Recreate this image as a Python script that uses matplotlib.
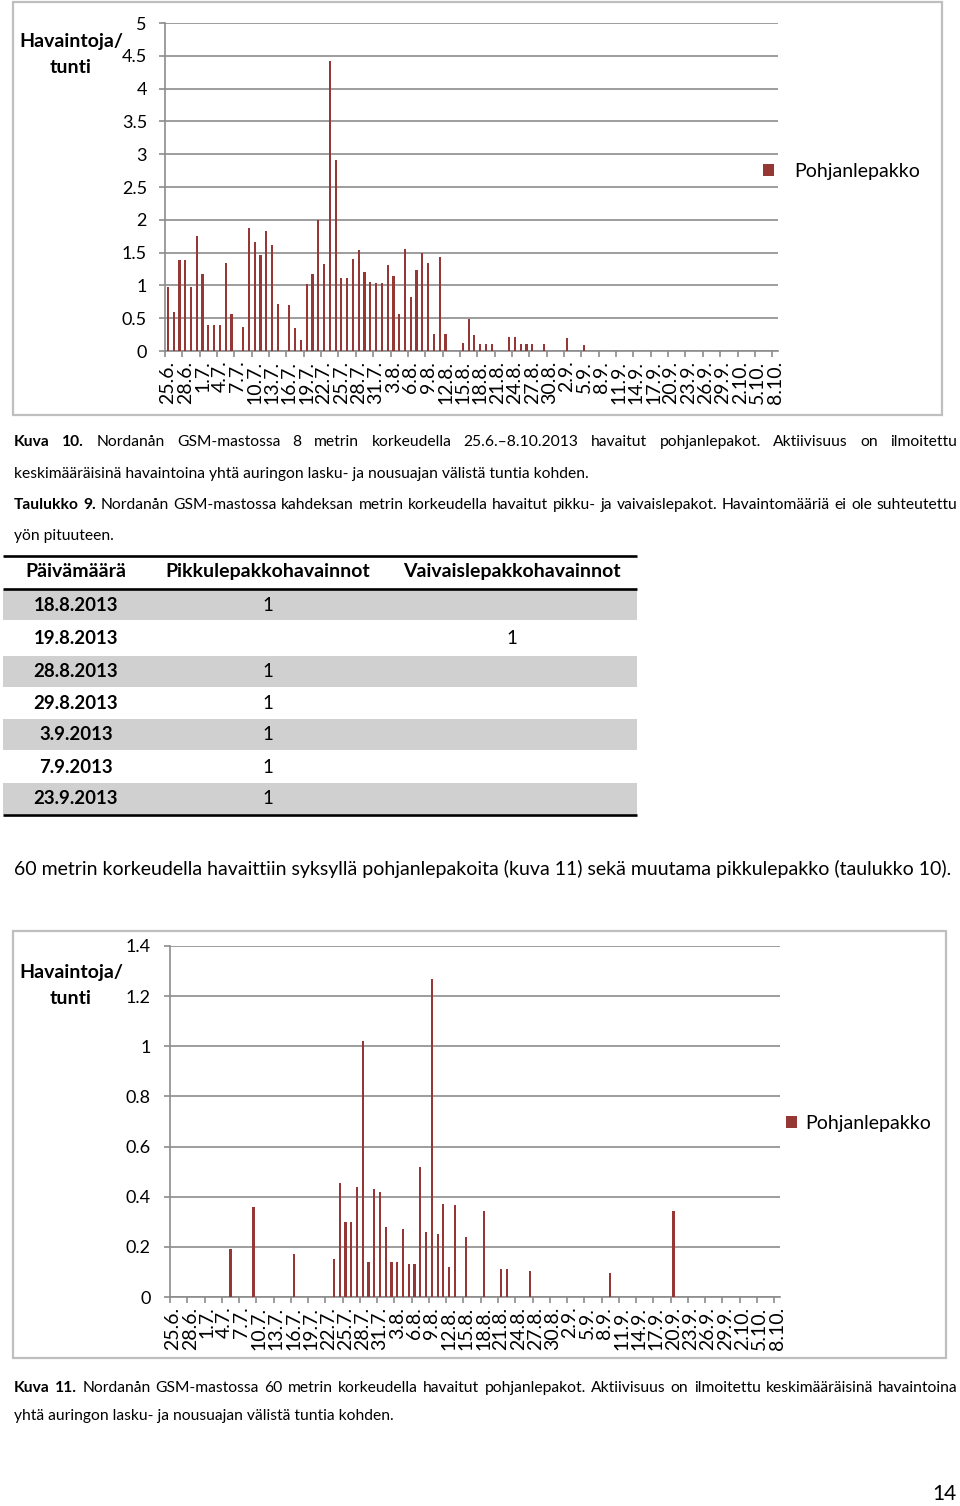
import numpy as np
import matplotlib.pyplot as plt
from matplotlib.patches import Rectangle

FONT = 'Lato'
plt.rcParams['font.family'] = [FONT, 'DejaVu Sans']

# daily categories 25.6. - 8.10.2013, every third one labelled
xtick_labels = ['25.6.', '28.6.', '1.7.', '4.7.', '7.7.', '10.7.', '13.7.', '16.7.', '19.7.',
                '22.7.', '25.7.', '28.7.', '31.7.', '3.8.', '6.8.', '9.8.', '12.8.', '15.8.',
                '18.8.', '21.8.', '24.8.', '27.8.', '30.8.', '2.9.', '5.9.', '8.9.', '11.9.',
                '14.9.', '17.9.', '20.9.', '23.9.', '26.9.', '29.9.', '2.10.', '5.10.', '8.10.']
n_days = 106

# Kuva 10: 8 m height, observations per hour
obs_8m = [0.98, 0.59, 1.38, 1.38, 0.98, 1.76, 1.17, 0.39, 0.39, 0.39,
          1.34, 0.57, 0, 0.37, 1.87, 1.66, 1.47, 1.83, 1.62, 0.71,
          0, 0.70, 0.35, 0.17, 1.02, 1.18, 2.00, 1.32, 4.42, 2.91,
          1.12, 1.11, 1.40, 1.54, 1.21, 1.05, 1.04, 1.03, 1.31, 1.15,
          0.57, 1.55, 0.83, 1.23, 1.49, 1.34, 0.26, 1.44, 0.26, 0,
          0, 0.12, 0.49, 0.24, 0.11, 0.11, 0.11, 0, 0, 0.22,
          0.22, 0.11, 0.11, 0.11, 0, 0.11, 0, 0, 0, 0.20,
          0, 0, 0.09, 0, 0, 0, 0, 0, 0, 0,
          0, 0, 0, 0, 0, 0, 0, 0, 0, 0,
          0, 0, 0, 0, 0, 0, 0, 0, 0, 0,
          0, 0, 0, 0, 0, 0]

# Kuva 11: 60 m height
obs_60m = [0, 0, 0, 0, 0, 0, 0, 0, 0, 0,
           0.19, 0, 0, 0, 0.36, 0, 0, 0, 0, 0,
           0, 0.17, 0, 0, 0, 0, 0, 0, 0.15, 0.455,
           0.30, 0.30, 0.44, 1.02, 0.14, 0.43, 0.42, 0.28, 0.14, 0.14,
           0.27, 0.13, 0.13, 0.52, 0.26, 1.27, 0.25, 0.37, 0.12, 0.365,
           0, 0.24, 0, 0, 0.345, 0, 0, 0.11, 0.11, 0,
           0, 0, 0.105, 0, 0, 0, 0, 0, 0, 0,
           0, 0, 0, 0, 0, 0, 0.095, 0, 0, 0,
           0, 0, 0, 0, 0, 0, 0, 0.345, 0, 0,
           0, 0, 0, 0, 0, 0, 0, 0, 0, 0,
           0, 0, 0, 0, 0, 0]

y1_ticks = [0, 0.5, 1, 1.5, 2, 2.5, 3, 3.5, 4, 4.5, 5]
y2_ticks = [0, 0.2, 0.4, 0.6, 0.8, 1, 1.2, 1.4]
series_name = 'Pohjanlepakko'

# Taulukko 9
table_header = ['Päivämäärä', 'Pikkulepakkohavainnot', 'Vaivaislepakkohavainnot']
table_dates = ['18.8.2013', '19.8.2013', '28.8.2013', '29.8.2013', '3.9.2013', '7.9.2013', '23.9.2013']
table_pikku = ['1', '', '1', '1', '1', '1', '1']
table_vaivais = ['', '1', '', '', '', '', '']

BAR = '#953735'
GRID = '#8c8c8c'

W, H = 960, 1506
fig = plt.figure(figsize=(W / 100, H / 100), dpi=100)
bg = fig.add_axes([0, 0, 1, 1], zorder=0)
bg.set_xlim(0, W)
bg.set_ylim(H, 0)
bg.axis('off')
renderer = fig.canvas.get_renderer()


def frac(x0, y0, x1, y1):
    return [x0 / W, 1 - y1 / H, (x1 - x0) / W, (y1 - y0) / H]


def fit_size(s, width, weight='normal'):
    t = bg.text(0, 0, s, fontsize=10, fontweight=weight)
    w = t.get_window_extent(renderer).width
    t.remove()
    return 10 * width / w


def justify(words, x0, x1, y, size):
    arts = [bg.text(0, y, w, fontsize=size, fontweight=wt, va='baseline') for w, wt in words]
    widths = [t.get_window_extent(renderer).width for t in arts]
    gap = (x1 - x0 - sum(widths)) / (len(arts) - 1)
    x = x0
    for t, w in zip(arts, widths):
        t.set_x(x)
        x += w + gap


def words_of(bold, normal):
    return [(w, 'bold') for w in bold.split()] + [(w, 'normal') for w in normal.split()]


def bar_chart(box, area, values, yticks, ylab_pad, legend_xy, text_pad):
    x0, y0, x1, y1 = box
    bg.add_patch(Rectangle((x0, y0), x1 - x0, y1 - y0, fill=False, ec='#bfbfbf', lw=1.6))
    ax = fig.add_axes(frac(*area), zorder=1)
    ax.patch.set_alpha(0)
    x = np.arange(n_days)
    ax.bar(x, values, width=0.38, color=BAR, label=series_name, zorder=3)
    ax.set_xlim(-0.5, n_days - 0.5)
    ax.set_ylim(yticks[0], yticks[-1])
    ax.set_yticks(yticks)
    ax.set_yticklabels([f'{v:g}' for v in yticks])
    ax.set_xticks(x[::3])
    ax.set_xticklabels(xtick_labels, rotation=90)
    ax.set_xticks(np.arange(-0.5, n_days, 3), minor=True)
    ax.yaxis.grid(True, color=GRID, lw=1.2)
    ax.set_axisbelow(True)
    for s in ['top', 'right']:
        ax.spines[s].set_visible(False)
    for s in ['left', 'bottom']:
        ax.spines[s].set_color(GRID)
        ax.spines[s].set_linewidth(1.2)
    ax.tick_params(axis='y', length=4, width=1.2, color=GRID, pad=ylab_pad, labelsize=13)
    ax.tick_params(axis='x', which='major', length=0, pad=7, labelsize=14)
    ax.tick_params(axis='x', which='minor', length=4, width=1.2, color=GRID)
    ax.legend(loc='center left', bbox_to_anchor=(legend_xy[0] / W, 1 - legend_xy[1] / H),
              bbox_transform=fig.transFigure, frameon=False, fontsize=14,
              handlelength=0.58, handleheight=0.58, handletextpad=text_pad,
              borderpad=0, borderaxespad=0)
    return ax


# chart 1
bar_chart((13, 2, 942, 415), (165, 23, 778, 351), obs_8m, y1_ticks, 9, (763, 171), 1.05)
bg.text(71, 41, 'Havaintoja/', fontsize=14, fontweight='bold', ha='center', va='center')
bg.text(71, 67, 'tunti', fontsize=14, fontweight='bold', ha='center', va='center')

# caption texts
body = fit_size('keskimääräisinä havaintoina yhtä auringon lasku- ja nousuajan välistä tuntia kohden.', 576)
justify(words_of('Kuva 10.', 'Nordanån GSM-mastossa 8 metrin korkeudella 25.6.–8.10.2013 havaitut '
                 'pohjanlepakot. Aktiivisuus on ilmoitettu'), 14, 957, 446, body)
bg.text(14, 478, 'keskimääräisinä havaintoina yhtä auringon lasku- ja nousuajan välistä tuntia kohden.',
        fontsize=body, va='baseline')
justify(words_of('Taulukko 9.', 'Nordanån GSM-mastossa kahdeksan metrin korkeudella havaitut pikku- ja '
                 'vaivaislepakot. Havaintomääriä ei ole suhteutettu'), 14, 957, 509, body)
bg.text(14, 540, 'yön pituuteen.', fontsize=body, va='baseline')

# table
col_x = [76, 268, 512]
hsize = fit_size(table_header[1], 204, 'bold')
dsize = fit_size(table_dates[0], 84, 'bold')
for cx, h in zip(col_x, table_header):
    bg.text(cx, 571, h, fontsize=hsize, fontweight='bold', ha='center', va='center')
row_h = [30, 35, 31, 31, 31, 32, 31]
top = 590
for i, (d, p, v) in enumerate(zip(table_dates, table_pikku, table_vaivais)):
    if i % 2 == 0:
        bg.add_patch(Rectangle((3, top), 634, row_h[i], color='#d0d0d0', lw=0))
    cy = top + row_h[i] / 2
    bg.text(col_x[0], cy, d, fontsize=dsize, fontweight='bold', ha='center', va='center')
    bg.text(col_x[1], cy, p, fontsize=dsize, ha='center', va='center')
    bg.text(col_x[2], cy, v, fontsize=dsize, ha='center', va='center')
    top += row_h[i] + (1 if i % 2 == 0 else 0)
for yy in [556, 588.5, 815]:
    bg.plot([3, 637], [yy, yy], color='black', lw=1.9, solid_capstyle='butt')

line60 = '60 metrin korkeudella havaittiin syksyllä pohjanlepakoita (kuva 11) sekä muutama pikkulepakko (taulukko 10).'
bg.text(14, 875, line60, fontsize=fit_size(line60, 936), va='baseline')

# chart 2
bar_chart((13, 931, 946, 1358), (170, 946, 780, 1297), obs_60m, y2_ticks, 10, (786, 1123), 0.4)
bg.text(71, 972, 'Havaintoja/', fontsize=14, fontweight='bold', ha='center', va='center')
bg.text(71, 998, 'tunti', fontsize=14, fontweight='bold', ha='center', va='center')

justify(words_of('Kuva 11.', 'Nordanån GSM-mastossa 60 metrin korkeudella havaitut pohjanlepakot. '
                 'Aktiivisuus on ilmoitettu keskimääräisinä havaintoina'), 14, 958, 1392, body)
bg.text(14, 1420, 'yhtä auringon lasku- ja nousuajan välistä tuntia kohden.', fontsize=body, va='baseline')

bg.text(957, 1500, '14', fontsize=15, ha='right', va='baseline')

fig.savefig('out.png', dpi=100)
